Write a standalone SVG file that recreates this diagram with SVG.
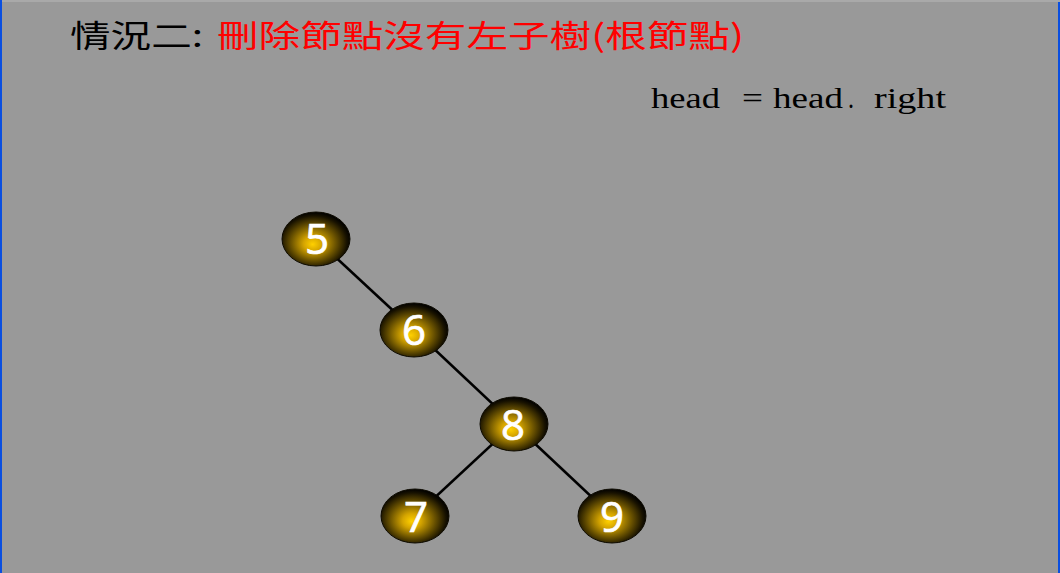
<svg xmlns="http://www.w3.org/2000/svg" width="1060" height="573" viewBox="0 0 1060 573">
  <style>
    .title { font-family: "Noto Sans CJK TC", "Noto Sans CJK SC", sans-serif; font-size: 31px; }
    .code { font-family: "Liberation Serif", serif; font-size: 29px; fill: #000; }
    .num { font-family: "Open Sans", "DejaVu Sans", sans-serif; font-size: 42px; fill: #fff; stroke: #fff; stroke-width: 0.7; text-anchor: middle; }
    .edge { stroke: #000; stroke-width: 2.6; fill: none; }
    .node { fill: url(#gold); stroke: #0d0a00; stroke-width: 1; }
  </style>
  <defs>
    <radialGradient id="gold" cx="0.47" cy="0.55" r="0.55" fx="0.45" fy="0.6">
      <stop offset="0" stop-color="#ffd000"/>
      <stop offset="0.25" stop-color="#d4a400"/>
      <stop offset="0.6" stop-color="#6a5200"/>
      <stop offset="0.88" stop-color="#181200"/>
      <stop offset="1" stop-color="#000"/>
    </radialGradient>
  </defs>
  <rect x="0" y="0" width="1060" height="573" fill="#999"/>
  <rect x="0" y="0" width="1060" height="2" fill="#a9a9a9"/>
  <rect x="0" y="0" width="2" height="573" fill="#0a4fe0"/>
  <rect x="1058" y="2" width="2" height="571" fill="#0a4fe0"/>

  <g id="title">
    <text class="title" x="70" y="47" fill="#000" textLength="133" lengthAdjust="spacingAndGlyphs">情況二:</text>
    <text class="title" x="217" y="47" fill="#ff0000" textLength="527" lengthAdjust="spacingAndGlyphs">刪除節點沒有左子樹(根節點)</text>
  </g>

  <g id="code">
    <text class="code" x="651" y="108" textLength="69" lengthAdjust="spacingAndGlyphs">head</text>
    <text class="code" x="742" y="108" textLength="21" lengthAdjust="spacingAndGlyphs">=</text>
    <text class="code" x="773" y="108" textLength="70" lengthAdjust="spacingAndGlyphs">head</text>
    <text class="code" x="848" y="108" textLength="6" lengthAdjust="spacingAndGlyphs">.</text>
    <text class="code" x="874" y="108" textLength="72" lengthAdjust="spacingAndGlyphs">right</text>
  </g>

  <g id="connectors">
    <line class="edge" x1="316" y1="239" x2="414" y2="330"/>
    <line class="edge" x1="414" y1="330" x2="514" y2="424"/>
    <line class="edge" x1="514" y1="424" x2="415" y2="516"/>
    <line class="edge" x1="514" y1="424" x2="612" y2="516"/>
  </g>

  <g id="node5">
    <ellipse class="node" cx="316" cy="239" rx="34" ry="27"/>
    <text class="num" x="317" y="254">5</text>
  </g>
  <g id="node6">
    <ellipse class="node" cx="414" cy="330" rx="34" ry="27"/>
    <text class="num" x="414" y="345">6</text>
  </g>
  <g id="node8">
    <ellipse class="node" cx="514" cy="424" rx="34" ry="27"/>
    <text class="num" x="513" y="440">8</text>
  </g>
  <g id="node7">
    <ellipse class="node" cx="415" cy="516" rx="34" ry="27"/>
    <text class="num" x="416" y="532">7</text>
  </g>
  <g id="node9">
    <ellipse class="node" cx="612" cy="516" rx="34" ry="27"/>
    <text class="num" x="612" y="532">9</text>
  </g>
</svg>
